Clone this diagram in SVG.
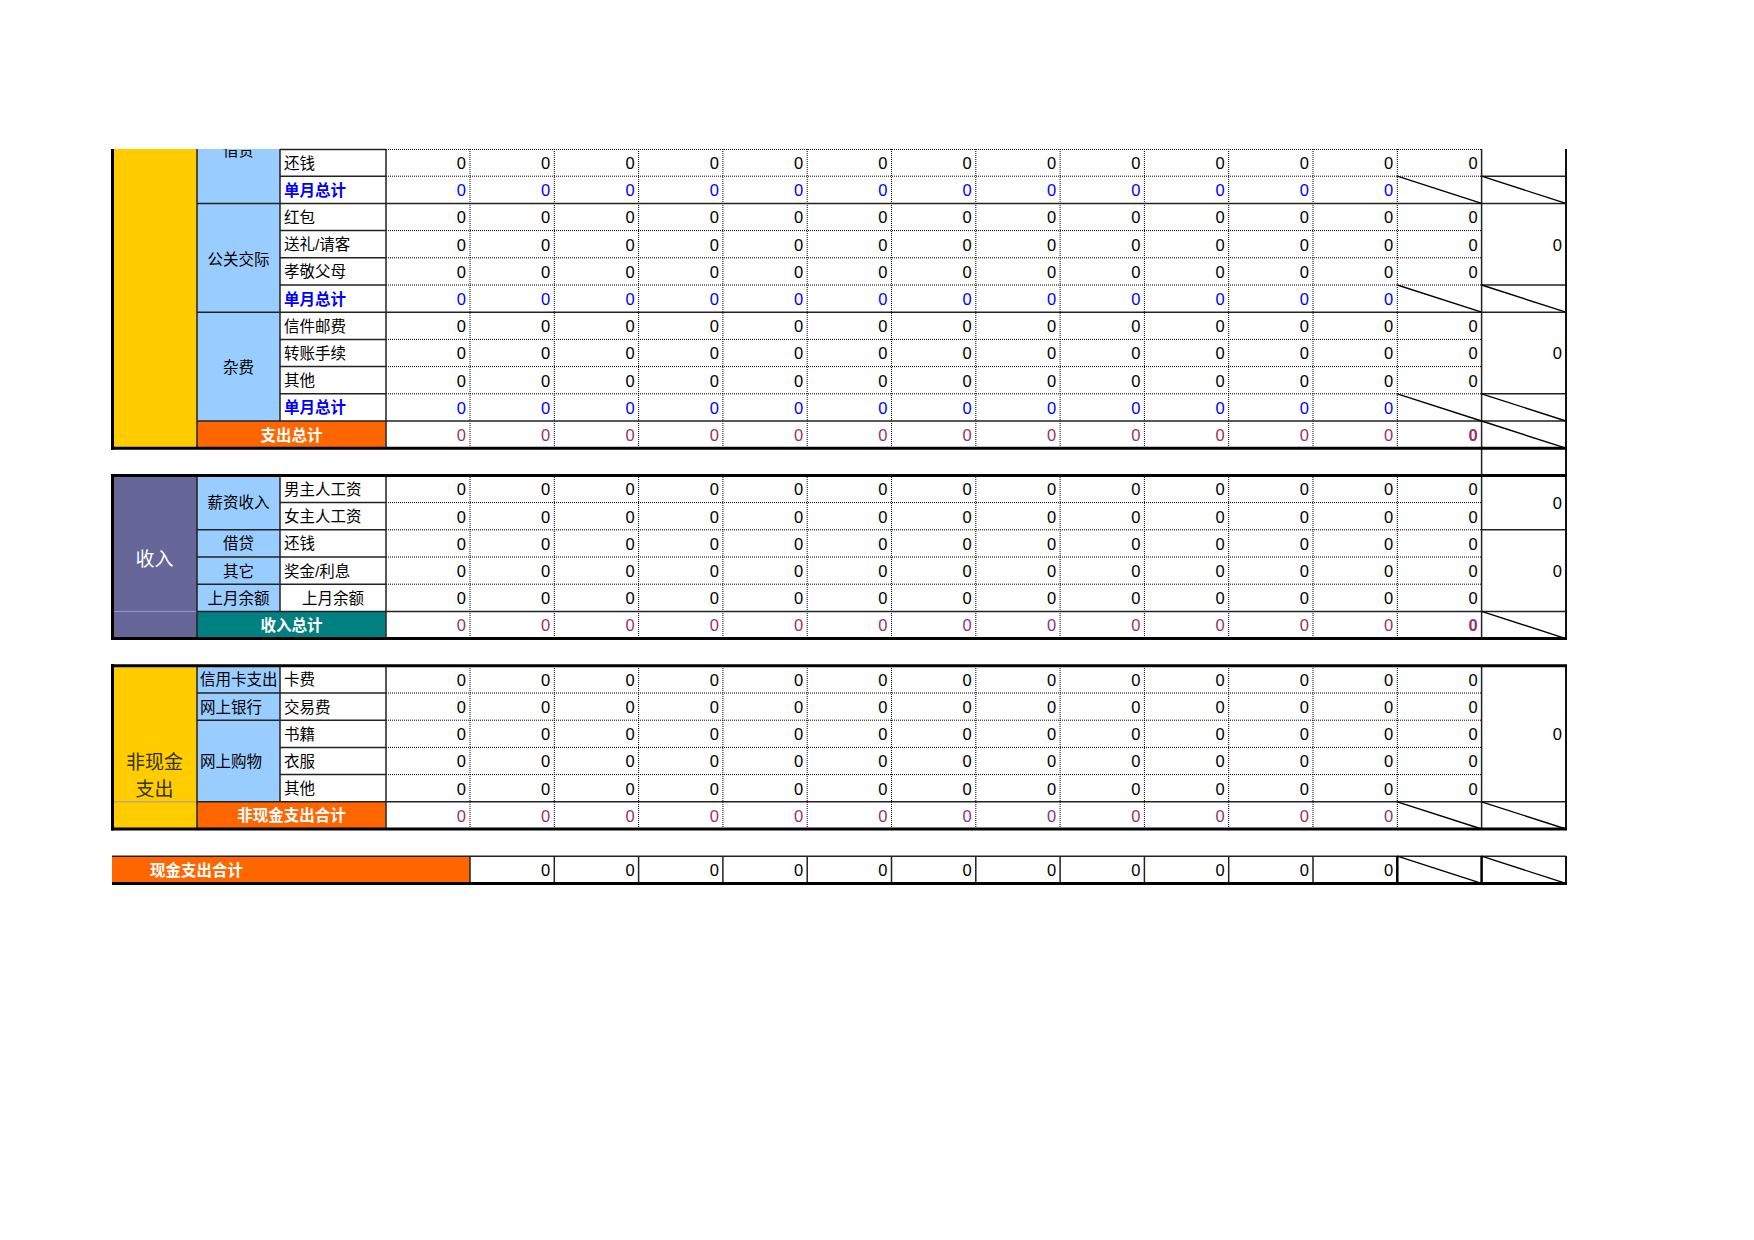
<svg xmlns="http://www.w3.org/2000/svg" width="1754" height="1240" viewBox="0 0 1754 1240">
<style>
text{font-family:"Liberation Sans","Noto Sans CJK SC",sans-serif;font-size:15.5px;fill:#000}
.n text{text-anchor:end;font-size:16.5px}
.b text{fill:#0000FF}
.m text{fill:#993366}
.bb{font-weight:bold;fill:#0000FF}
.wb{font-weight:bold;fill:#fff;text-anchor:middle}
.c{text-anchor:middle}
.big{font-size:19px;text-anchor:middle}
.sl{stroke:#222;stroke-width:1.5;fill:none}
.dt{stroke:#000;stroke-width:1;stroke-dasharray:1 1;fill:none}
.tk{stroke:#000;stroke-width:3;fill:none}
.gr{stroke:#777;stroke-width:1.2;fill:none}
.dg{stroke:#000;stroke-width:1.4;fill:none}
</style>
<defs>
<clipPath id="topclip"><rect x="0" y="149" width="1754" height="1091"/></clipPath>
</defs>
<rect width="1754" height="1240" fill="#fff"/>

<!-- ============ Expense section ============ -->
<g id="expense">
<rect x="112" y="149" width="85" height="299.2" fill="#FFCC00"/>
<rect x="197" y="149" width="83" height="272" fill="#99CCFF"/>
<rect x="197" y="421" width="188.7" height="27.2" fill="#FF6600"/>
<g clip-path="url(#topclip)"><text class="c" x="238.5" y="155.5">借贷</text></g>
<text class="c" x="238.5" y="264.5">公关交际</text>
<text class="c" x="238.5" y="373">杂费</text>
<text x="284" y="168.5">还钱</text>
<text class="bb" x="284" y="195.7">单月总计</text>
<text x="284" y="222.9">红包</text>
<text x="284" y="250.1">送礼/请客</text>
<text x="284" y="277.3">孝敬父母</text>
<text class="bb" x="284" y="304.5">单月总计</text>
<text x="284" y="331.7">信件邮费</text>
<text x="284" y="358.9">转账手续</text>
<text x="284" y="386.1">其他</text>
<text class="bb" x="284" y="413.3">单月总计</text>
<text class="wb" x="291.5" y="440.5">支出总计</text>
</g>

<!-- ============ Income section ============ -->
<g id="income">
<rect x="112" y="475.4" width="85" height="163.2" fill="#666699"/>
<rect x="197" y="475.4" width="83" height="136" fill="#99CCFF"/>
<rect x="197" y="611.4" width="188.7" height="27.2" fill="#008080"/>
<text class="big" x="154.5" y="566" style="fill:#fff">收入</text>
<text class="c" x="238.5" y="508">薪资收入</text>
<text class="c" x="238.5" y="549.3">借贷</text>
<text class="c" x="238.5" y="576.5">其它</text>
<text class="c" x="238.5" y="603.7">上月余额</text>
<text x="284" y="494.9">男主人工资</text>
<text x="284" y="522.1">女主人工资</text>
<text x="284" y="549.3">还钱</text>
<text x="284" y="576.5">奖金/利息</text>
<text class="c" x="333" y="603.7">上月余额</text>
<text class="wb" x="291.5" y="630.9">收入总计</text>
</g>

<!-- ============ Non-cash section ============ -->
<g id="noncash">
<rect x="112" y="665.8" width="85" height="163.2" fill="#FFCC00"/>
<rect x="197" y="665.8" width="83" height="136" fill="#99CCFF"/>
<rect x="197" y="801.8" width="188.7" height="27.2" fill="#FF6600"/>
<text class="big" x="154.5" y="769" style="fill:#333300">非现金</text>
<text class="big" x="154.5" y="796" style="fill:#333300">支出</text>
<text x="200" y="685.3">信用卡支出</text>
<text x="200" y="712.5">网上银行</text>
<text x="200" y="766.5">网上购物</text>
<text x="284" y="685.3">卡费</text>
<text x="284" y="712.5">交易费</text>
<text x="284" y="739.7">书籍</text>
<text x="284" y="766.9">衣服</text>
<text x="284" y="794.1">其他</text>
<text class="wb" x="291.5" y="821.3">非现金支出合计</text>
</g>

<!-- ============ Cash row ============ -->
<g id="cash">
<rect x="112" y="856.2" width="358" height="27.2" fill="#FF6600"/>
<text x="150" y="875.7" style="font-weight:bold;fill:#fff">现金支出合计</text>
</g>

<!-- ============ Numbers ============ -->
<g id="numbers">
<g class="n" transform="translate(0,169)"><text x="466">0</text><text x="550.3">0</text><text x="634.6">0</text><text x="718.9">0</text><text x="803.2">0</text><text x="887.5">0</text><text x="971.8">0</text><text x="1056.1">0</text><text x="1140.4">0</text><text x="1224.7">0</text><text x="1309">0</text><text x="1393.3">0</text><text x="1477.6">0</text></g>
<g class="n b" transform="translate(0,196.2)"><text x="466">0</text><text x="550.3">0</text><text x="634.6">0</text><text x="718.9">0</text><text x="803.2">0</text><text x="887.5">0</text><text x="971.8">0</text><text x="1056.1">0</text><text x="1140.4">0</text><text x="1224.7">0</text><text x="1309">0</text><text x="1393.3">0</text></g>
<g class="n" transform="translate(0,223.4)"><text x="466">0</text><text x="550.3">0</text><text x="634.6">0</text><text x="718.9">0</text><text x="803.2">0</text><text x="887.5">0</text><text x="971.8">0</text><text x="1056.1">0</text><text x="1140.4">0</text><text x="1224.7">0</text><text x="1309">0</text><text x="1393.3">0</text><text x="1477.6">0</text></g>
<g class="n" transform="translate(0,250.6)"><text x="466">0</text><text x="550.3">0</text><text x="634.6">0</text><text x="718.9">0</text><text x="803.2">0</text><text x="887.5">0</text><text x="971.8">0</text><text x="1056.1">0</text><text x="1140.4">0</text><text x="1224.7">0</text><text x="1309">0</text><text x="1393.3">0</text><text x="1477.6">0</text><text x="1561.9">0</text></g>
<g class="n" transform="translate(0,277.8)"><text x="466">0</text><text x="550.3">0</text><text x="634.6">0</text><text x="718.9">0</text><text x="803.2">0</text><text x="887.5">0</text><text x="971.8">0</text><text x="1056.1">0</text><text x="1140.4">0</text><text x="1224.7">0</text><text x="1309">0</text><text x="1393.3">0</text><text x="1477.6">0</text></g>
<g class="n b" transform="translate(0,305)"><text x="466">0</text><text x="550.3">0</text><text x="634.6">0</text><text x="718.9">0</text><text x="803.2">0</text><text x="887.5">0</text><text x="971.8">0</text><text x="1056.1">0</text><text x="1140.4">0</text><text x="1224.7">0</text><text x="1309">0</text><text x="1393.3">0</text></g>
<g class="n" transform="translate(0,332.2)"><text x="466">0</text><text x="550.3">0</text><text x="634.6">0</text><text x="718.9">0</text><text x="803.2">0</text><text x="887.5">0</text><text x="971.8">0</text><text x="1056.1">0</text><text x="1140.4">0</text><text x="1224.7">0</text><text x="1309">0</text><text x="1393.3">0</text><text x="1477.6">0</text></g>
<g class="n" transform="translate(0,359.4)"><text x="466">0</text><text x="550.3">0</text><text x="634.6">0</text><text x="718.9">0</text><text x="803.2">0</text><text x="887.5">0</text><text x="971.8">0</text><text x="1056.1">0</text><text x="1140.4">0</text><text x="1224.7">0</text><text x="1309">0</text><text x="1393.3">0</text><text x="1477.6">0</text><text x="1561.9">0</text></g>
<g class="n" transform="translate(0,386.6)"><text x="466">0</text><text x="550.3">0</text><text x="634.6">0</text><text x="718.9">0</text><text x="803.2">0</text><text x="887.5">0</text><text x="971.8">0</text><text x="1056.1">0</text><text x="1140.4">0</text><text x="1224.7">0</text><text x="1309">0</text><text x="1393.3">0</text><text x="1477.6">0</text></g>
<g class="n b" transform="translate(0,413.8)"><text x="466">0</text><text x="550.3">0</text><text x="634.6">0</text><text x="718.9">0</text><text x="803.2">0</text><text x="887.5">0</text><text x="971.8">0</text><text x="1056.1">0</text><text x="1140.4">0</text><text x="1224.7">0</text><text x="1309">0</text><text x="1393.3">0</text></g>
<g class="n m" transform="translate(0,441)"><text x="466">0</text><text x="550.3">0</text><text x="634.6">0</text><text x="718.9">0</text><text x="803.2">0</text><text x="887.5">0</text><text x="971.8">0</text><text x="1056.1">0</text><text x="1140.4">0</text><text x="1224.7">0</text><text x="1309">0</text><text x="1393.3">0</text><text x="1477.6" font-weight="bold">0</text></g>
<g class="n" transform="translate(0,495.4)"><text x="466">0</text><text x="550.3">0</text><text x="634.6">0</text><text x="718.9">0</text><text x="803.2">0</text><text x="887.5">0</text><text x="971.8">0</text><text x="1056.1">0</text><text x="1140.4">0</text><text x="1224.7">0</text><text x="1309">0</text><text x="1393.3">0</text><text x="1477.6">0</text></g>
<g class="n" transform="translate(0,508.5)"><text x="1561.9">0</text></g>
<g class="n" transform="translate(0,522.6)"><text x="466">0</text><text x="550.3">0</text><text x="634.6">0</text><text x="718.9">0</text><text x="803.2">0</text><text x="887.5">0</text><text x="971.8">0</text><text x="1056.1">0</text><text x="1140.4">0</text><text x="1224.7">0</text><text x="1309">0</text><text x="1393.3">0</text><text x="1477.6">0</text></g>
<g class="n" transform="translate(0,549.8)"><text x="466">0</text><text x="550.3">0</text><text x="634.6">0</text><text x="718.9">0</text><text x="803.2">0</text><text x="887.5">0</text><text x="971.8">0</text><text x="1056.1">0</text><text x="1140.4">0</text><text x="1224.7">0</text><text x="1309">0</text><text x="1393.3">0</text><text x="1477.6">0</text></g>
<g class="n" transform="translate(0,577)"><text x="466">0</text><text x="550.3">0</text><text x="634.6">0</text><text x="718.9">0</text><text x="803.2">0</text><text x="887.5">0</text><text x="971.8">0</text><text x="1056.1">0</text><text x="1140.4">0</text><text x="1224.7">0</text><text x="1309">0</text><text x="1393.3">0</text><text x="1477.6">0</text><text x="1561.9">0</text></g>
<g class="n" transform="translate(0,604.2)"><text x="466">0</text><text x="550.3">0</text><text x="634.6">0</text><text x="718.9">0</text><text x="803.2">0</text><text x="887.5">0</text><text x="971.8">0</text><text x="1056.1">0</text><text x="1140.4">0</text><text x="1224.7">0</text><text x="1309">0</text><text x="1393.3">0</text><text x="1477.6">0</text></g>
<g class="n m" transform="translate(0,631.4)"><text x="466">0</text><text x="550.3">0</text><text x="634.6">0</text><text x="718.9">0</text><text x="803.2">0</text><text x="887.5">0</text><text x="971.8">0</text><text x="1056.1">0</text><text x="1140.4">0</text><text x="1224.7">0</text><text x="1309">0</text><text x="1393.3">0</text><text x="1477.6" font-weight="bold">0</text></g>
<g class="n" transform="translate(0,685.8)"><text x="466">0</text><text x="550.3">0</text><text x="634.6">0</text><text x="718.9">0</text><text x="803.2">0</text><text x="887.5">0</text><text x="971.8">0</text><text x="1056.1">0</text><text x="1140.4">0</text><text x="1224.7">0</text><text x="1309">0</text><text x="1393.3">0</text><text x="1477.6">0</text></g>
<g class="n" transform="translate(0,713)"><text x="466">0</text><text x="550.3">0</text><text x="634.6">0</text><text x="718.9">0</text><text x="803.2">0</text><text x="887.5">0</text><text x="971.8">0</text><text x="1056.1">0</text><text x="1140.4">0</text><text x="1224.7">0</text><text x="1309">0</text><text x="1393.3">0</text><text x="1477.6">0</text></g>
<g class="n" transform="translate(0,740.2)"><text x="466">0</text><text x="550.3">0</text><text x="634.6">0</text><text x="718.9">0</text><text x="803.2">0</text><text x="887.5">0</text><text x="971.8">0</text><text x="1056.1">0</text><text x="1140.4">0</text><text x="1224.7">0</text><text x="1309">0</text><text x="1393.3">0</text><text x="1477.6">0</text><text x="1561.9">0</text></g>
<g class="n" transform="translate(0,767.4)"><text x="466">0</text><text x="550.3">0</text><text x="634.6">0</text><text x="718.9">0</text><text x="803.2">0</text><text x="887.5">0</text><text x="971.8">0</text><text x="1056.1">0</text><text x="1140.4">0</text><text x="1224.7">0</text><text x="1309">0</text><text x="1393.3">0</text><text x="1477.6">0</text></g>
<g class="n" transform="translate(0,794.6)"><text x="466">0</text><text x="550.3">0</text><text x="634.6">0</text><text x="718.9">0</text><text x="803.2">0</text><text x="887.5">0</text><text x="971.8">0</text><text x="1056.1">0</text><text x="1140.4">0</text><text x="1224.7">0</text><text x="1309">0</text><text x="1393.3">0</text><text x="1477.6">0</text></g>
<g class="n m" transform="translate(0,821.8)"><text x="466">0</text><text x="550.3">0</text><text x="634.6">0</text><text x="718.9">0</text><text x="803.2">0</text><text x="887.5">0</text><text x="971.8">0</text><text x="1056.1">0</text><text x="1140.4">0</text><text x="1224.7">0</text><text x="1309">0</text><text x="1393.3">0</text></g>
<g class="n" transform="translate(0,876.2)"><text x="550.3">0</text><text x="634.6">0</text><text x="718.9">0</text><text x="803.2">0</text><text x="887.5">0</text><text x="971.8">0</text><text x="1056.1">0</text><text x="1140.4">0</text><text x="1224.7">0</text><text x="1309">0</text><text x="1393.3">0</text></g>
</g>

<!-- ============ Grid lines ============ -->
<g id="grid">
<path class="dt" d="M386 149.5H1481.6M386 176.2H1481.6M386 230.6H1481.6M386 257.8H1481.6M386 285H1481.6M386 339.4H1481.6M386 366.6H1481.6M386 393.8H1481.6M386 502.6H1481.6M386 529.8H1481.6M386 557H1481.6M386 584.2H1481.6M386 693H1481.6M386 720.2H1481.6M386 747.4H1481.6M386 774.6H1481.6"/>
<path class="dt" d="M470 149V448M554.3 149V448M638.6 149V448M722.9 149V448M807.2 149V448M891.5 149V448M975.8 149V448M1060.1 149V448M1144.4 149V448M1228.7 149V448M1313 149V448M1397.3 149V448
M470 475V638M554.3 475V638M638.6 475V638M722.9 475V638M807.2 475V638M891.5 475V638M975.8 475V638M1060.1 475V638M1144.4 475V638M1228.7 475V638M1313 475V638M1397.3 475V638
M470 666V829M554.3 666V829M638.6 666V829M722.9 666V829M807.2 666V829M891.5 666V829M975.8 666V829M1060.1 666V829M1144.4 666V829M1228.7 666V829M1313 666V829M1397.3 666V829"/>
<path class="sl" d="M280 149.5H386M280 176.2H386M1481.6 176.2H1566M197 203.4H1566M280 230.6H386M280 257.8H386M280 285H386M1481.6 285H1566M197 312.2H1566M280 339.4H386M280 366.6H386M280 393.8H386M1481.6 393.8H1566M197 421H1566
M280 502.6H386M197 529.8H386M1481.6 529.8H1566M197 557H386M197 584.2H386M197 611.4H1566
M197 693H386M197 720.2H386M280 747.4H386M280 774.6H386M197 801.8H1566
M112 856.2H1566"/>
<path class="gr" d="M112 611.4H197M112 801.8H197" style="stroke:#9a9ac0;stroke-width:1"/>
<path class="sl" d="M197 149V448M280 149V421M386 149V448M1481.6 149V475.4
M197 475V638M280 475V611.4M386 475V638M1481.6 475V638
M197 666V829M280 666V801.8M386 666V829M1481.6 666V829
M470 856V883M554.3 856V883M638.6 856V883M722.9 856V883M807.2 856V883M891.5 856V883M975.8 856V883M1060.1 856V883M1144.4 856V883M1228.7 856V883M1313 856V883"/>
<path class="sl" style="stroke-width:2.5;stroke:#000" d="M1397.3 856V883M1481.6 856V883"/>
<path class="sl" style="stroke-width:2;stroke:#111" d="M1566 149V475.4M1566 475V638M1566 666V829M1566 856V883"/>
<path class="tk" d="M112.5 149V449.7M112.5 474V640M112.5 664.3V830.5"/>
<path class="tk" d="M111 448.2H1567M111 475.4H1567M111 638.6H1567M111 665.8H1567M111 829H1567M112 883.4H1567"/>
<path class="dg" d="M1397.3 176.2L1481.6 203.4M1481.6 176.2L1565.9 203.4
M1397.3 285L1481.6 312.2M1481.6 285L1565.9 312.2
M1397.3 393.8L1481.6 421M1481.6 393.8L1565.9 421
M1481.6 421L1565.9 448.2
M1481.6 611.4L1565.9 638.6
M1397.3 801.8L1481.6 829M1481.6 801.8L1565.9 829
M1397.3 856.2L1481.6 883.4M1481.6 856.2L1565.9 883.4"/>
</g>
</svg>
